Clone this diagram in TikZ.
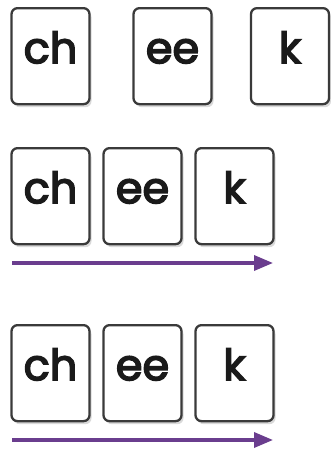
\documentclass[tikz,border=0pt]{standalone}
\usepackage{fontspec}
\setmainfont{Poppins}
\newfontfamily\cardfont{Poppins}[FakeBold=3.5]
\usetikzlibrary{shadows,arrows.meta}
\definecolor{cardline}{HTML}{3A3A3A}
\definecolor{arrowpurple}{HTML}{6A3D8E}
\definecolor{ink}{HTML}{1A1A1A}
\begin{document}
\begin{tikzpicture}[x=1pt,y=-1pt,
  card/.style={draw=cardline, line width=2.3pt, rounded corners=6pt, fill=white,
    minimum width=78pt, inner sep=0pt, text height=55pt, text depth=41pt,
    font=\fontsize{43}{43}\cardfont, text=ink, anchor=north,
    drop shadow={shadow xshift=2pt, shadow yshift=-3pt, opacity=0.3, fill=black!50}},
  readarrow/.style={draw=arrowpurple, line width=3.4pt, -{Triangle[length=19pt,width=15pt]}}]
\useasboundingbox (0,0) rectangle (331,451);
% row 1
\node[card] (a1) at (50.5,7) {ch};
\node[card] (a2) at (172.5,7) {ee};
\node[card] (a3) at (290,7) {k};
% row 2
\node[card] (b1) at (50.5,147) {ch};
\node[card] (b2) at (142.5,147) {ee};
\node[card] (b3) at (234.5,147) {k};
\coordinate (b0) at (12,263);
\coordinate (be) at (273,263);
\draw[readarrow] (b0) -- (be);
% row 3
\node[card] (c1) at (50.5,324) {ch};
\node[card] (c2) at (142.5,324) {ee};
\node[card] (c3) at (234.5,324) {k};
\coordinate (c0) at (12,440);
\coordinate (ce) at (273,440);
\draw[readarrow] (c0) -- (ce);
\end{tikzpicture}
\end{document}
